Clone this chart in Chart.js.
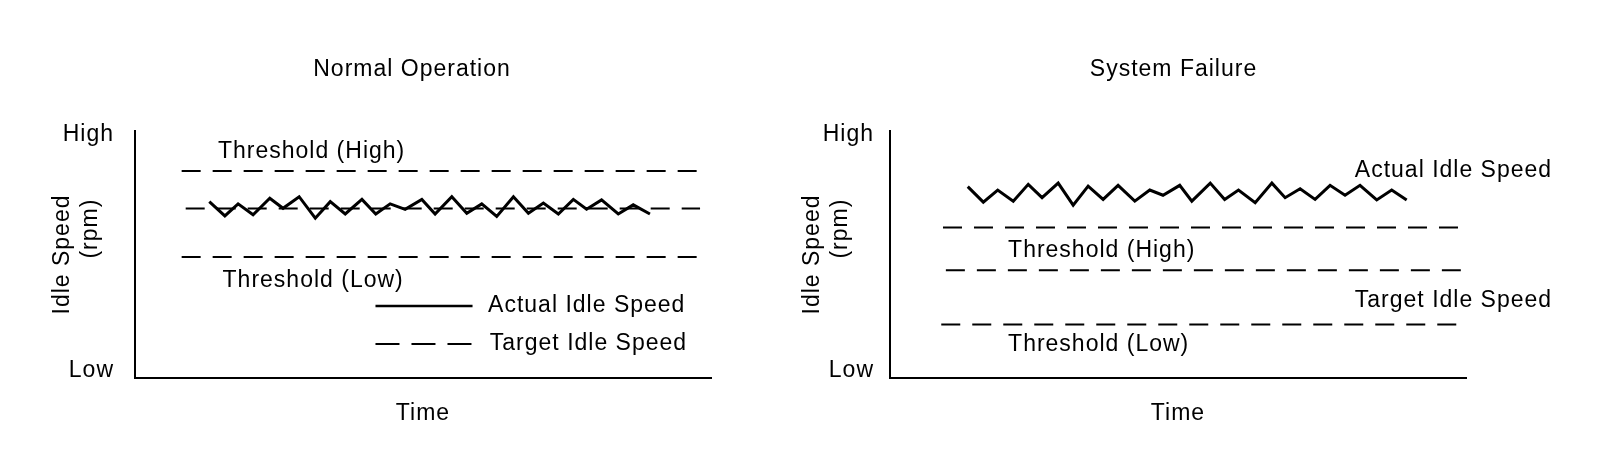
<!DOCTYPE html>
<html>
<head>
<meta charset="utf-8">
<script src="https://cdn.jsdelivr.net/npm/chart.js@4.4.1/dist/chart.umd.min.js"></script>
<style>
  html, body { margin: 0; padding: 0; background: #fff; }
  body { width: 1600px; height: 460px; position: relative; overflow: hidden; }
  canvas { position: absolute; top: 0; }
  #normalChart { left: 0; }
  #failureChart { left: 755px; }
</style>
</head>
<body>
<canvas id="normalChart" width="824" height="460"></canvas>
<canvas id="failureChart" width="837" height="460"></canvas>
<script>
const panelTitles = ['Normal Operation', 'System Failure'];
const yTickValues = [3.1, 98.4];
const yTickLabels = ['Low', 'High'];

// Normal operation: actual idle speed trace (time, rpm level 0-100)
const normalTime = [12.9, 15.6, 17.9, 20.5, 23.4, 25.7, 28.5, 31.3, 33.9, 36.5,
    39.4, 41.8, 44.3, 46.9, 49.8, 52.1, 55.0, 57.6, 60.2, 62.8,
    65.7, 68.3, 70.9, 73.5, 76.1, 78.4, 81.0, 83.9, 86.5, 89.4];
const normalActual = [71.4, 65.6, 70.5, 66.1, 72.8, 68.7, 73.4, 64.7, 71.4, 66.4,
    72.3, 66.4, 70.5, 68.3, 72.3, 66.4, 73.4, 66.7, 70.5, 65.4,
    73.4, 66.7, 70.8, 66.4, 72.3, 68.3, 72.1, 66.4, 70.1, 66.4];
// Threshold (High), Target, Threshold (Low)
const normalRefLevels = [83.8, 68.6, 49.0];
const normalRefStart = [8.1, 8.8, 8.1];
const normalRefEnd = [98.8, 98.1, 98.8];

// System failure
const failureTime = [13.5, 16.2, 18.7, 21.4, 24.0, 26.4, 29.2, 31.8, 34.4, 37.0,
    39.6, 42.5, 45.1, 47.4, 50.3, 52.4, 55.6, 58.1, 60.5, 63.4,
    66.3, 68.6, 71.2, 73.8, 76.4, 79.0, 81.6, 84.5, 87.1, 89.7];
const failureActual = [77.5, 71.2, 76.1, 71.6, 78.4, 73.0, 78.9, 70.0, 77.7, 72.3,
    78.0, 71.6, 76.1, 74.0, 78.0, 71.6, 78.9, 72.3, 76.1, 71.0,
    78.9, 73.0, 76.6, 72.3, 78.0, 74.0, 78.0, 72.1, 76.1, 72.1];
const failureRefLevels = [60.9, 43.6, 21.7];
const failureRefStart = [9.2, 9.7, 8.9];
const failureRefEnd = [99.5, 99.1, 99.5];

const FONT_FAMILY = "'Liberation Sans', Arial, Helvetica, sans-serif";
const FONT_SIZE = 23;
const REF_DASH = [19, 12];

Chart.defaults.font.family = FONT_FAMILY;
Chart.defaults.font.size = FONT_SIZE;
Chart.defaults.color = '#000';

// the original lettering is a little looser than Arial
const spacing = {
    id: 'spacing',
    beforeUpdate(chart) { chart.ctx.letterSpacing = '1px'; },
    beforeDraw(chart) { chart.ctx.letterSpacing = '1px'; }
};

// labels + legend samples placed inside the plot, using the chart's scales
const panelText = {
    id: 'panelText',
    afterDatasetsDraw(chart, args, opts) {
        const { ctx } = chart;
        const x = chart.scales.x, y = chart.scales.y;
        ctx.save();
        ctx.strokeStyle = '#000';
        (opts.samples || []).forEach(s => {
            ctx.lineWidth = s.width;
            ctx.setLineDash(s.dash);
            ctx.beginPath();
            ctx.moveTo(x.getPixelForValue(s.x0), y.getPixelForValue(s.y));
            ctx.lineTo(x.getPixelForValue(s.x1), y.getPixelForValue(s.y));
            ctx.stroke();
        });
        ctx.setLineDash([]);
        ctx.fillStyle = '#000';
        ctx.font = `${FONT_SIZE}px ${FONT_FAMILY}`;
        ctx.letterSpacing = '1px';
        ctx.textBaseline = 'alphabetic';
        ctx.textAlign = 'left';
        (opts.labels || []).forEach(l => {
            ctx.fillText(l.text, x.getPixelForValue(l.x), y.getPixelForValue(l.y));
        });
        ctx.restore();
    }
};

function refDatasets(starts, ends, levels) {
    return levels.map((lvl, i) => ({
        data: [{ x: starts[i], y: lvl }, { x: ends[i], y: lvl }],
        borderColor: '#000',
        borderWidth: 2,
        borderDash: REF_DASH,
        pointRadius: 0
    }));
}

function makePanel(canvasId, title, times, actual, refStart, refEnd, refLevels, text, padRight, tickPad, yTitlePad) {
    const datasets = [{
        data: times.map((t, i) => ({ x: t, y: actual[i] })),
        borderColor: '#000',
        borderWidth: 3,
        pointRadius: 0,
        tension: 0
    }, ...refDatasets(refStart, refEnd, refLevels)];

    return new Chart(document.getElementById(canvasId), {
        type: 'line',
        data: { datasets },
        plugins: [spacing, panelText],
        options: {
            responsive: false,
            animation: false,
            layout: { padding: 0 },
            plugins: {
                legend: { display: false },
                tooltip: { enabled: false },
                title: {
                    display: true,
                    text: title,
                    color: '#000',
                    font: { size: FONT_SIZE, weight: 'normal', lineHeight: 1.2 },
                    padding: { top: 56, bottom: 47.4 }
                },
                panelText: text
            },
            scales: {
                x: {
                    type: 'linear',
                    min: 0,
                    max: 100,
                    grid: { display: false, drawTicks: false },
                    border: { display: true, color: '#000', width: 2 },
                    ticks: { display: false },
                    title: {
                        display: true,
                        text: 'Time',
                        color: '#000',
                        font: { size: FONT_SIZE, lineHeight: 1.2 },
                        padding: { top: 21.4, bottom: 33 }
                    }
                },
                y: {
                    type: 'linear',
                    min: 0,
                    max: 100,
                    grid: { display: false, drawTicks: false },
                    border: { display: true, color: '#000', width: 2 },
                    afterBuildTicks: scale => { scale.ticks = yTickValues.map(v => ({ value: v })); },
                    afterFit: scale => { scale.width = 135; },
                    ticks: {
                        padding: tickPad,
                        color: '#000',
                        callback: v => yTickLabels[yTickValues.indexOf(v)]
                    },
                    title: {
                        display: true,
                        text: ['Idle Speed', '       (rpm)'],
                        color: '#000',
                        font: { size: FONT_SIZE, lineHeight: 1.25 },
                        padding: { top: yTitlePad, bottom: 0 }
                    }
                },
                // empty right-hand axis, only reserves the blank strip right of the plot
                yPad: {
                    type: 'linear',
                    position: 'right',
                    grid: { display: false, drawTicks: false },
                    border: { display: false },
                    ticks: { display: false },
                    afterFit: scale => { scale.width = padRight; }
                }
            }
        }
    });
}

makePanel('normalChart', panelTitles[0], normalTime, normalActual,
    normalRefStart, normalRefEnd, normalRefLevels, {
        labels: [
            { text: 'Threshold (High)', x: 14.4, y: 88.9 },
            { text: 'Threshold (Low)', x: 15.2, y: 36.7 },
            { text: 'Actual Idle Speed', x: 61.3, y: 26.8 },
            { text: 'Target Idle Speed', x: 61.6, y: 11.5 }
        ],
        samples: [
            { x0: 41.75, x1: 58.6, y: 29.1, width: 2.5, dash: [] },
            { x0: 41.75, x1: 58.6, y: 13.8, width: 2, dash: [24, 12] }
        ]
    }, 113, 21, 48);

makePanel('failureChart', panelTitles[1], failureTime, failureActual,
    failureRefStart, failureRefEnd, failureRefLevels, {
        labels: [
            { text: 'Actual Idle Speed', x: 80.7, y: 81.3 },
            { text: 'Threshold (High)', x: 20.5, y: 49.0 },
            { text: 'Target Idle Speed', x: 80.7, y: 28.7 },
            { text: 'Threshold (Low)', x: 20.5, y: 11.0 }
        ],
        samples: []
    }, 126, 16, 43);
</script>
</body>
</html>
